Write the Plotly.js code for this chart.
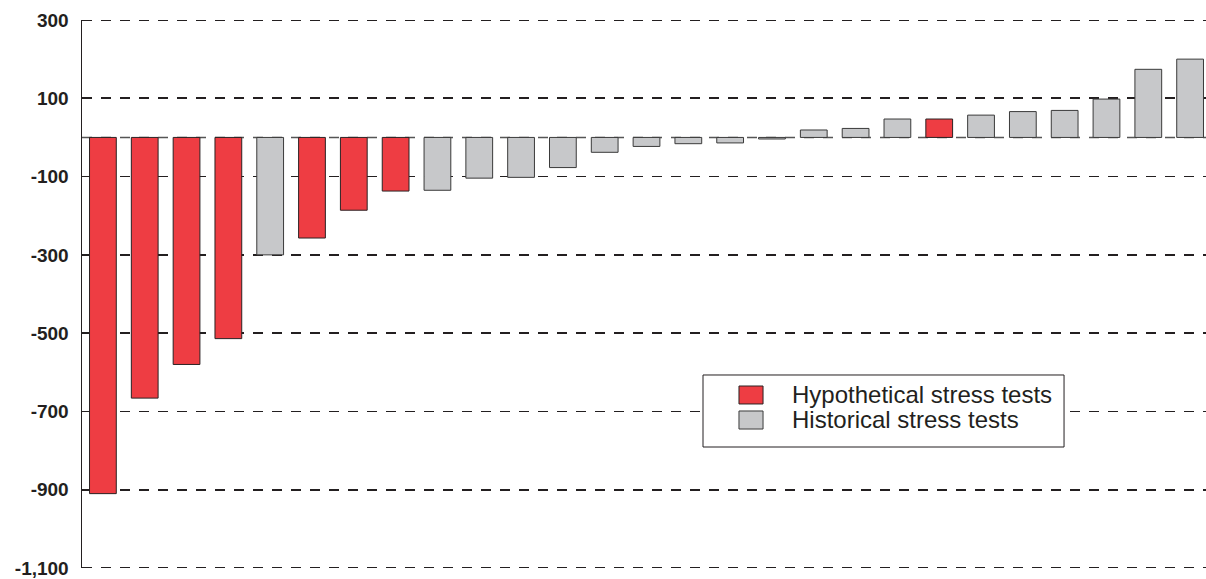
<!DOCTYPE html>
<html>
<head>
<meta charset="utf-8">
<script src="https://cdn.plot.ly/plotly-3.0.1.min.js"></script>
<style>html,body{margin:0;padding:0;background:#fff;}#chart{width:1206px;height:579px;}</style>
</head>
<body>
<div id="chart"></div>
<script>
// Data
const values = [-910, -666, -580, -514, -300, -257, -186, -137, -135, -104, -102, -77, -38, -23, -16, -14, -4,
                19, 23, 47, 47, 57, 66, 69, 98, 174, 200];
const kinds = ['Hypo','Hypo','Hypo','Hypo','Hist','Hypo','Hypo','Hypo','Hist','Hist','Hist','Hist','Hist','Hist','Hist','Hist','Hist',
               'Hist','Hist','Hist','Hypo','Hist','Hist','Hist','Hist','Hist','Hist'];
const seriesKeys = ['Hypo', 'Hist'];
const seriesNames = {Hypo: 'Hypothetical stress tests', Hist: 'Historical stress tests'};
const tickVals = [-1100, -900, -700, -500, -300, -100, 100, 300];
const tickText = ['-1,100', '-900', '-700', '-500', '-300', '-100', '100', '300'];

const colors = {Hypo: '#ee3d43', Hist: '#c7c8ca'};
const lineColors = {Hypo: '#2a2223', Hist: '#3a3a3a'};
const ink = '#231f20';

function buildTrace(kind) {
  const xs = [], ys = [];
  values.forEach((v, i) => { if (kinds[i] === kind) { xs.push(i); ys.push(v); } });
  return {
    type: 'bar', x: xs, y: ys, name: seriesNames[kind], showlegend: false,
    marker: {color: colors[kind], line: {color: lineColors[kind], width: 1}},
    width: 0.64, hoverinfo: 'y'
  };
}

const traces = seriesKeys.map(buildTrace);

const gridDash = '10px,9px';
const gridW = 1.8;
const shapes = [
  {type: 'line', xref: 'paper', x0: 0, x1: 1, yref: 'y', y0: 0, y1: 0,
   line: {color: '#555555', width: 1.5, dash: gridDash}, layer: 'below'},
  {type: 'line', xref: 'paper', x0: 0, x1: 1, yref: 'y', y0: 300, y1: 300,
   line: {color: ink, width: gridW, dash: gridDash}, layer: 'below'},
  {type: 'line', xref: 'paper', x0: 0, x1: 1, yref: 'y', y0: -1100, y1: -1100,
   line: {color: ink, width: gridW, dash: gridDash}, layer: 'below'},
  // legend box
  {type: 'rect', xref: 'paper', yref: 'paper', x0: 0.5525, x1: 0.8737, y0: 0.2208, y1: 0.3522,
   line: {color: ink, width: 1}, fillcolor: '#ffffff', layer: 'above'}
];

// legend swatches + labels
const swatchY = {Hypo: [0.2993, 0.3321], Hist: [0.2536, 0.2865]};
const labelY = {Hypo: 0.3157, Hist: 0.2701};
const annotations = [];
seriesKeys.forEach(k => {
  shapes.push({type: 'rect', xref: 'paper', yref: 'paper', x0: 0.5845, x1: 0.6059,
               y0: swatchY[k][0], y1: swatchY[k][1],
               line: {color: lineColors[k], width: 1}, fillcolor: colors[k], layer: 'above'});
  annotations.push({xref: 'paper', yref: 'paper', x: 0.6299, y: labelY[k], xanchor: 'left', yanchor: 'middle',
                    text: seriesNames[k], showarrow: false,
                    font: {family: 'Liberation Sans, Arial, sans-serif', size: 24, color: ink}});
});

const layout = {
  width: 1206, height: 579,
  margin: {l: 82, r: 0, t: 20, b: 11, pad: 0},
  paper_bgcolor: '#ffffff', plot_bgcolor: '#ffffff',
  barmode: 'overlay',
  showlegend: false,
  xaxis: {range: [-0.5, 26.38], showticklabels: false, ticks: '', showgrid: false, zeroline: false, showline: false},
  yaxis: {
    range: [-1100, 300], tickvals: tickVals, ticktext: tickText.map(t => '<b>' + t + '</b>'),
    showgrid: true, gridcolor: ink, gridwidth: gridW, griddash: gridDash,
    zeroline: false, showline: true, linecolor: ink, linewidth: 1.5,
    ticks: '', ticklen: 0, ticklabelstandoff: 8,
    tickfont: {family: 'Liberation Sans, Arial, sans-serif', size: 19, color: ink}
  },
  shapes: shapes,
  annotations: annotations
};

Plotly.newPlot('chart', traces, layout, {displayModeBar: false, staticPlot: true});
</script>
</body>
</html>
